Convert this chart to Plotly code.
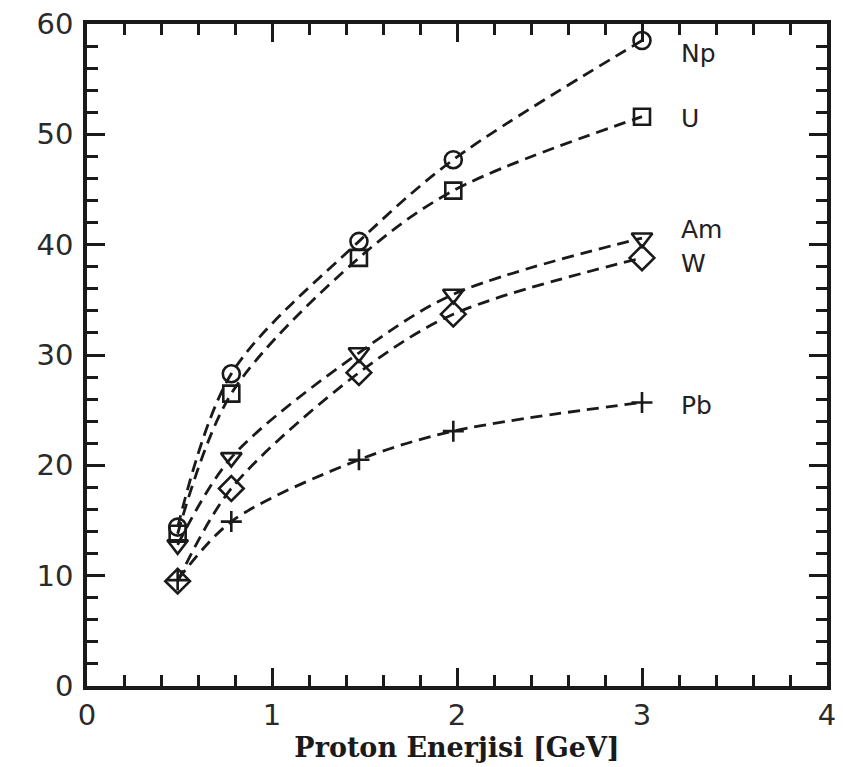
import plotly.graph_objects as go

energy = [0.49, 0.78, 1.47, 1.98, 3.0]
np_vals = [14.4, 28.3, 40.3, 47.7, 58.5]
u_vals = [13.8, 26.5, 38.8, 44.9, 51.6]
am_vals = [12.8, 20.7, 30.2, 35.5, 40.6]
w_vals = [9.5, 17.9, 28.4, 33.7, 38.8]
pb_vals = [9.6, 14.9, 20.5, 23.1, 25.7]

series = [
    ("Np", np_vals, "circle-open", 17),
    ("U", u_vals, "square-open", 16),
    ("Am", am_vals, "triangle-down-open", 18),
    ("W", w_vals, "diamond-open", 19),
    ("Pb", pb_vals, "cross-thin-open", 15),
]
label_y = {"Np": 57.3, "U": 51.4, "Am": 41.4, "W": 38.3, "Pb": 25.4}

fig = go.Figure()
for name, vals, sym, msize in series:
    fig.add_trace(go.Scatter(
        x=energy, y=vals, mode="lines+markers", name=name,
        line=dict(color="#1a1a1a", width=2.8, dash="12px,7px", shape="spline", smoothing=0.9),
        marker=dict(symbol=sym, size=msize, color="#1a1a1a",
                    line=dict(color="#1a1a1a", width=2.6)),
        showlegend=False,
    ))
    fig.add_annotation(x=3.2, y=label_y[name], text=name, showarrow=False,
                       xanchor="left", yanchor="middle",
                       font=dict(family="DejaVu Sans", size=25, color="#222"))

axis_common = dict(
    showgrid=False, zeroline=False, showline=True, linecolor="#1a1a1a", linewidth=3.5,
    mirror="allticks", ticks="inside", ticklen=18, tickwidth=3, tickcolor="#1a1a1a",
    tickfont=dict(family="DejaVu Sans", size=29, color="#2a2a2a"),
)

fig.update_xaxes(range=[0, 4], dtick=1, tick0=0,
                 minor=dict(ticks="inside", ticklen=11, tickwidth=3, tickcolor="#1a1a1a", dtick=0.2, showgrid=False),
                 title=dict(text="Proton Enerjisi [GeV]", standoff=2,
                            font=dict(family="DejaVu Serif", size=27, weight="bold", color="#1a1a1a")),
                 **axis_common)
fig.update_yaxes(range=[0, 60], dtick=10, tick0=0,
                 minor=dict(ticks="inside", ticklen=11, tickwidth=3, tickcolor="#1a1a1a", dtick=2, showgrid=False),
                 ticklabelstandoff=4,
                 **axis_common)

fig.update_layout(
    width=843, height=767,
    margin=dict(l=87, r=7, t=23, b=81),
    paper_bgcolor="white", plot_bgcolor="white",
)

fig.write_html("out.html")
